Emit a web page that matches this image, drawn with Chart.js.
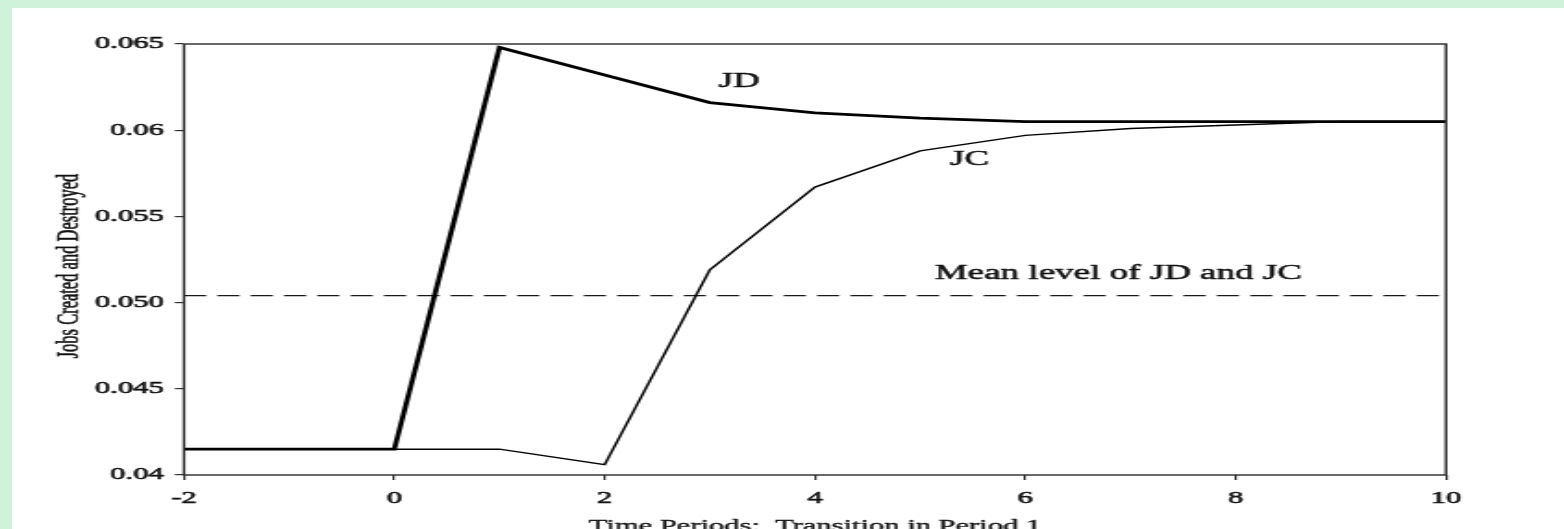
<!DOCTYPE html>
<html>
<head>
<meta charset="utf-8">
<script src="https://cdn.jsdelivr.net/npm/chart.js@4.4.1/dist/chart.umd.min.js"></script>
<style>
  html, body { margin: 0; padding: 0; width: 1564px; height: 529px; overflow: hidden; background: #cff3da; }
  #paper { position: absolute; left: 12px; top: 8px; width: 1552px; height: 521px; background: #ffffff; }
  /* the figure is drawn narrow and widened horizontally, like the printed page it comes from */
  #wrap { position: absolute; left: 0; top: 0; width: 845px; height: 540px; transform: scaleX(1.85089); transform-origin: 0 0; }
</style>
</head>
<body>
<div id="paper"></div>
<div id="wrap"><canvas id="c" width="845" height="540"></canvas></div>
<script>
// Time periods (transition happens in period 1)
const periods = [-2, -1, 0, 1, 2, 3, 4, 5, 6, 7, 8, 9, 10];
// Job destruction rate
const jobsDestroyed = [0.0415, 0.0415, 0.0415, 0.0648, 0.0632, 0.0616, 0.0610, 0.0607, 0.0605, 0.0605, 0.0605, 0.0605, 0.0605];
// Job creation rate
const jobsCreated = [0.0415, 0.0415, 0.0415, 0.0415, 0.0406, 0.0519, 0.0567, 0.0588, 0.0597, 0.0601, 0.0603, 0.0605, 0.0605];
// Long-run mean level of JD and JC
const meanPeriods = [-2, 10];
const meanLevel = [0.0504, 0.0504];

// Axis tick labels as printed
const xTickLabels = ['-2', '0', '2', '4', '6', '8', '10'];
const yTickLabels = ['0.04', '0.045', '0.050', '0.055', '0.06', '0.065'];

// In-plot annotations: text with the data point each one is anchored to
const noteTexts = ['JD', 'JC', 'Mean level of JD and JC'];
const noteX = [3.28, 5.47, 5.14];
const noteY = [0.0628, 0.0583, 0.0517];
const noteAlign = ['center', 'center', 'left'];

const SERIF = '"Liberation Serif", "Times New Roman", serif';
const INK = '#111';

const pts = (xs, ys) => xs.map((x, i) => ({ x: x, y: ys[i] }));

// fill and lightly stroke a string so it keeps the weight of the printed type
function inkText(ctx, t, x, y, stroke) {
  ctx.fillText(t, x, y);
  ctx.lineWidth = stroke;
  ctx.strokeText(t, x, y);
}

const framePlugin = {
  id: 'frameAndNotes',
  afterDatasetsDraw(chart) {
    const { ctx, chartArea: a, scales } = chart;
    ctx.save();
    // plot box
    ctx.strokeStyle = '#2a2a2a';
    ctx.lineWidth = 1.4;
    ctx.strokeRect(a.left, a.top, a.right - a.left, a.bottom - a.top);
    // curve labels
    ctx.fillStyle = INK;
    ctx.strokeStyle = INK;
    ctx.lineJoin = 'round';
    ctx.font = '20px ' + SERIF;
    ctx.textBaseline = 'middle';
    noteTexts.forEach((t, i) => {
      ctx.textAlign = noteAlign[i];
      inkText(ctx, t, scales.x.getPixelForValue(noteX[i]), scales.y.getPixelForValue(noteY[i]), 0.5);
    });
    // horizontal axis title
    ctx.textAlign = 'center';
    ctx.font = '16.5px ' + SERIF;
    inkText(ctx, 'Time Periods:  Transition in Period 1', (a.left + a.right) / 2, 527, 0.35);
    // vertical axis title
    ctx.translate(38, 266);
    ctx.rotate(-Math.PI / 2);
    inkText(ctx, 'Jobs Created and Destroyed', 0, 0, 0.45);
    ctx.restore();
  }
};

new Chart(document.getElementById('c'), {
  type: 'line',
  data: {
    datasets: [
      { label: 'JD', data: pts(periods, jobsDestroyed), borderColor: '#000', borderWidth: 2.8, pointRadius: 0, tension: 0 },
      { label: 'JC', data: pts(periods, jobsCreated), borderColor: '#000', borderWidth: 1.5, pointRadius: 0, tension: 0 },
      { label: 'Mean', data: pts(meanPeriods, meanLevel), borderColor: '#1a1a1a', borderWidth: 1.3, borderDash: [12, 6], pointRadius: 0, tension: 0 }
    ]
  },
  options: {
    responsive: false,
    animation: false,
    events: [],
    layout: { padding: { top: 44, right: 63.8, left: 0, bottom: 0 } },
    plugins: { legend: { display: false }, tooltip: { enabled: false } },
    scales: {
      x: {
        type: 'linear', min: -2, max: 10,
        afterFit: s => { s.height = 65; },
        border: { display: false },
        grid: { drawOnChartArea: false, drawTicks: true, tickLength: 5, color: '#333', lineWidth: 1.2 },
        ticks: {
          stepSize: 2, padding: 9, color: INK, maxRotation: 0,
          textStrokeColor: INK, textStrokeWidth: 0.6,
          font: { family: SERIF, size: 16.5 },
          callback: (v, i) => xTickLabels[i]
        }
      },
      y: {
        type: 'linear', min: 0.04, max: 0.065,
        afterFit: s => { s.width = 99.4; },
        border: { display: false },
        grid: { drawOnChartArea: false, drawTicks: true, tickLength: 5, color: '#333', lineWidth: 1.2 },
        ticks: {
          stepSize: 0.005, padding: 6, color: INK,
          textStrokeColor: INK, textStrokeWidth: 0.6,
          font: { family: SERIF, size: 16.5 },
          callback: (v, i) => yTickLabels[i]
        }
      }
    }
  },
  plugins: [framePlugin]
});
</script>
</body>
</html>
